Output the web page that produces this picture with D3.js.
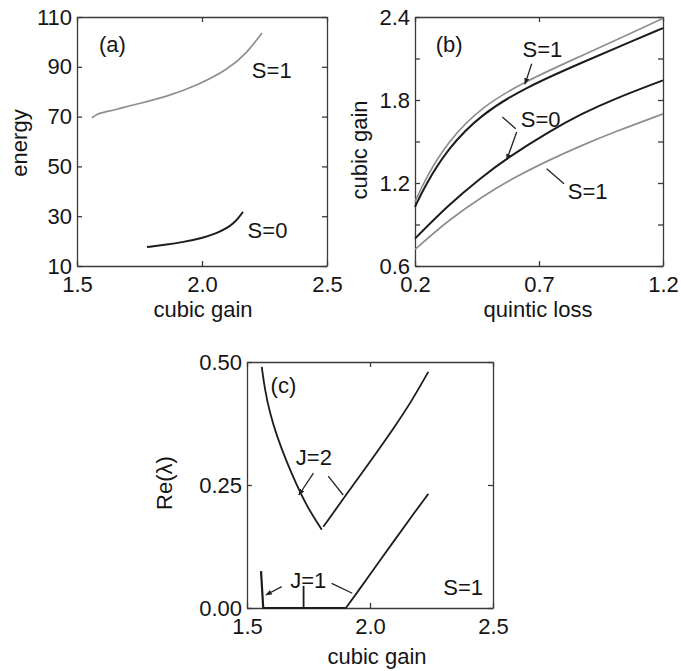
<!DOCTYPE html>
<html>
<head>
<meta charset="utf-8">
<script src="https://cdn.jsdelivr.net/npm/d3@7"></script>
<style>
  body { margin: 0; background: #fff; }
  svg text { font-family: 'Liberation Sans', Arial, sans-serif; fill: #151515; }
  .axis path, .axis line { stroke: #3a3a3a; stroke-width: 1.3; }
  .axis text { font-size: 22px; }
</style>
</head>
<body>
<svg id="chart" width="681" height="671"></svg>
<script>
// ---- panel (a): energy vs cubic gain
const aTicksX = [1.5, 2.0, 2.5];
const aTicksY = [10, 30, 50, 70, 90, 110];
const aS1 = [[1.56, 69.5], [1.58, 71.0], [1.60, 71.6], [1.66, 72.9], [1.72, 74.6], [1.86, 77.9],
             [1.99, 83.0], [2.10, 88.7], [2.18, 95.5], [2.24, 103.6]];
const aS0 = [[1.78, 17.6], [1.85, 18.5], [1.925, 19.6], [2.0, 21.2], [2.06, 23.2], [2.10, 25.2],
             [2.124, 27.0], [2.145, 29.2], [2.164, 31.7]];

// ---- panel (b): cubic gain vs quintic loss
const bTicksX = [0.2, 0.7, 1.2];
const bTicksY = [0.6, 0.9, 1.2, 1.5, 1.8, 2.1, 2.4];
const bLabelsY = [0.6, 1.2, 1.8, 2.4];
const bS1upper = [[0.2, 1.063], [0.24, 1.225], [0.334, 1.505], [0.469, 1.752], [0.644, 1.935],
                  [0.872, 2.12], [1.074, 2.285], [1.2, 2.39]];
const bS0upper = [[0.2, 1.027], [0.24, 1.18], [0.334, 1.455], [0.469, 1.70], [0.644, 1.89],
                  [0.872, 2.07], [1.074, 2.225], [1.2, 2.32]];
const bS0lower = [[0.2, 0.798], [0.334, 1.04], [0.469, 1.243], [0.576, 1.385], [0.738, 1.569],
                  [0.872, 1.701], [1.006, 1.81], [1.2, 1.942]];
const bS1lower = [[0.2, 0.72], [0.334, 0.93], [0.469, 1.10], [0.603, 1.243], [0.738, 1.364],
                  [0.872, 1.472], [1.006, 1.57], [1.2, 1.70]];

// ---- panel (c): Re(lambda) vs cubic gain
const cTicksX = [1.5, 2.0, 2.5];
const cTicksY = [0, 0.25, 0.5];
const cJ2left = [[1.56, 0.49], [1.573, 0.443], [1.593, 0.396], [1.621, 0.350], [1.661, 0.297],
                 [1.702, 0.250], [1.743, 0.207], [1.804, 0.159]];
const cJ2right = [[1.81, 0.165], [1.90, 0.228], [2.0, 0.297], [2.1, 0.368], [2.17, 0.421], [2.237, 0.48]];
const cJ1 = [[1.557, 0.075], [1.566, 0], [1.902, 0]];
const cJ1rise = [[1.902, 0], [1.95, 0.033], [2.0, 0.068], [2.05, 0.103], [2.1, 0.138], [2.15, 0.173], [2.237, 0.232]];
const cJ1stub = [[1.73, 0.045], [1.73, 0]];

const BLACK = '#1c1c1c', GRAY = '#8f8f8f';

const svg = d3.select('#chart');
svg.append('defs').append('marker')
    .attr('id', 'head')
    .attr('viewBox', '0 0 10 10')
    .attr('refX', 9).attr('refY', 5)
    .attr('markerWidth', 5).attr('markerHeight', 5)
    .attr('orient', 'auto')
  .append('path')
    .attr('d', 'M0,1 L10,5 L0,9 z')
    .attr('fill', '#222');

const near = (list, v) => list.some(t => Math.abs(t - v) < 1e-9);

function makePanel(p) {
    const x = d3.scaleLinear().domain(p.xDomain).range([p.left, p.right]);
    const y = d3.scaleLinear().domain(p.yDomain).range([p.bottom, p.top]);
    const g = svg.append('g');

    const fx = d => near(p.xLabels, d) ? p.fmtX(d) : '';
    const fy = d => near(p.yLabels, d) ? p.fmtY(d) : '';

    g.append('g').attr('class', 'axis').attr('transform', `translate(0,${p.bottom})`)
        .call(d3.axisBottom(x).tickValues(p.xTicks).tickSize(-5).tickSizeOuter(0).tickPadding(10).tickFormat(fx));
    g.append('g').attr('class', 'axis').attr('transform', `translate(0,${p.top})`)
        .call(d3.axisTop(x).tickValues(p.xTicks).tickSize(-5).tickSizeOuter(0).tickFormat(''));
    g.append('g').attr('class', 'axis').attr('transform', `translate(${p.left},0)`)
        .call(d3.axisLeft(y).tickValues(p.yTicks).tickSize(-5).tickSizeOuter(0).tickPadding(5).tickFormat(fy));
    g.append('g').attr('class', 'axis').attr('transform', `translate(${p.right},0)`)
        .call(d3.axisRight(y).tickValues(p.yTicks).tickSize(-5).tickSizeOuter(0).tickFormat(''));
    g.selectAll('.axis .domain').attr('stroke', '#3a3a3a');

    p.series.forEach(s => {
        const line = d3.line().x(d => x(d[0])).y(d => y(d[1])).curve(s.curve || d3.curveBasis);
        g.append('path')
            .attr('d', line(s.data))
            .attr('fill', 'none')
            .attr('stroke', s.color)
            .attr('stroke-width', s.width)
            .attr('stroke-linejoin', 'round');
    });

    (p.pointers || []).forEach(a => {
        g.append('line')
            .attr('x1', x(a[0])).attr('y1', y(a[1]))
            .attr('x2', x(a[2])).attr('y2', y(a[3]))
            .attr('stroke', '#222').attr('stroke-width', 1.3)
            .attr('marker-end', a[4] ? 'url(#head)' : null);
    });

    (p.notes || []).forEach(n => {
        g.append('text')
            .attr('x', x(n[1])).attr('y', y(n[2]))
            .attr('dy', '0.36em')
            .attr('text-anchor', 'middle')
            .style('font-size', '22px')
            .text(n[0]);
    });

    // axis titles
    g.append('text')
        .attr('x', (p.left + p.right) / 2 + (p.xTitleShift || 0))
        .attr('y', p.xTitleY)
        .attr('text-anchor', 'middle')
        .style('font-size', '22px')
        .text(p.xTitle);
    g.append('text')
        .attr('transform', `translate(${p.yTitleX},${p.yTitleCy}) rotate(-90)`)
        .attr('text-anchor', 'middle')
        .style('font-size', '22px')
        .text(p.yTitle);
}

makePanel({
    left: 77, right: 327, top: 17, bottom: 266,
    xDomain: [1.5, 2.5], yDomain: [10, 110],
    xTicks: aTicksX, xLabels: aTicksX, yTicks: aTicksY, yLabels: aTicksY,
    fmtX: d3.format('.1f'), fmtY: d3.format('d'),
    series: [
        { data: aS1, color: GRAY, width: 1.7 },
        { data: aS0, color: BLACK, width: 2 }
    ],
    notes: [['(a)', 1.642, 99.2], ['S=1', 2.279, 88.7], ['S=0', 2.262, 24.5]],
    xTitle: 'cubic gain', xTitleY: 317, xTitleShift: 1,
    yTitle: 'energy', yTitleX: 27, yTitleCy: 143
});

makePanel({
    left: 415, right: 663, top: 17, bottom: 266,
    xDomain: [0.2, 1.2], yDomain: [0.6, 2.4],
    xTicks: bTicksX, xLabels: bTicksX, yTicks: bTicksY, yLabels: bLabelsY,
    fmtX: d3.format('.1f'), fmtY: d3.format('.1f'),
    series: [
        { data: bS1upper, color: GRAY, width: 1.7 },
        { data: bS0upper, color: BLACK, width: 2 },
        { data: bS0lower, color: BLACK, width: 2 },
        { data: bS1lower, color: GRAY, width: 1.7 }
    ],
    pointers: [
        [0.6705, 2.062, 0.6435, 1.915, true],
        [0.606, 1.593, 0.552, 1.677, false],
        [0.610, 1.569, 0.570, 1.368, true],
        [0.801, 1.195, 0.731, 1.303, false]
    ],
    notes: [['(b)', 0.338, 2.203], ['S=1', 0.714, 2.165], ['S=0', 0.707, 1.665], ['S=1', 0.896, 1.14]],
    xTitle: 'quintic loss', xTitleY: 317, xTitleShift: -1,
    yTitle: 'cubic gain', yTitleX: 367, yTitleCy: 150
});

makePanel({
    left: 247, right: 493, top: 362, bottom: 608,
    xDomain: [1.5, 2.5], yDomain: [0, 0.5],
    xTicks: cTicksX, xLabels: cTicksX, yTicks: cTicksY, yLabels: cTicksY,
    fmtX: d3.format('.1f'), fmtY: d3.format('.2f'),
    series: [
        { data: cJ2left, color: BLACK, width: 1.8 },
        { data: cJ2right, color: BLACK, width: 1.8 },
        { data: cJ1, color: BLACK, width: 2.2, curve: d3.curveLinear },
        { data: cJ1rise, color: BLACK, width: 1.8 },
        { data: cJ1stub, color: BLACK, width: 1.8, curve: d3.curveLinear }
    ],
    pointers: [
        [1.77, 0.274, 1.711, 0.2297, true],
        [1.83, 0.268, 1.891, 0.2297, false],
        [1.641, 0.0433, 1.577, 0.0264, true],
        [1.844, 0.050, 1.928, 0.030, false]
    ],
    notes: [['(c)', 1.648, 0.453], ['J=2', 1.772, 0.3075], ['J=1', 1.749, 0.0569], ['S=1', 2.379, 0.0433]],
    xTitle: 'cubic gain', xTitleY: 664, xTitleShift: 7,
    yTitle: 'Re(λ)', yTitleX: 172, yTitleCy: 483
});
</script>
</body>
</html>
